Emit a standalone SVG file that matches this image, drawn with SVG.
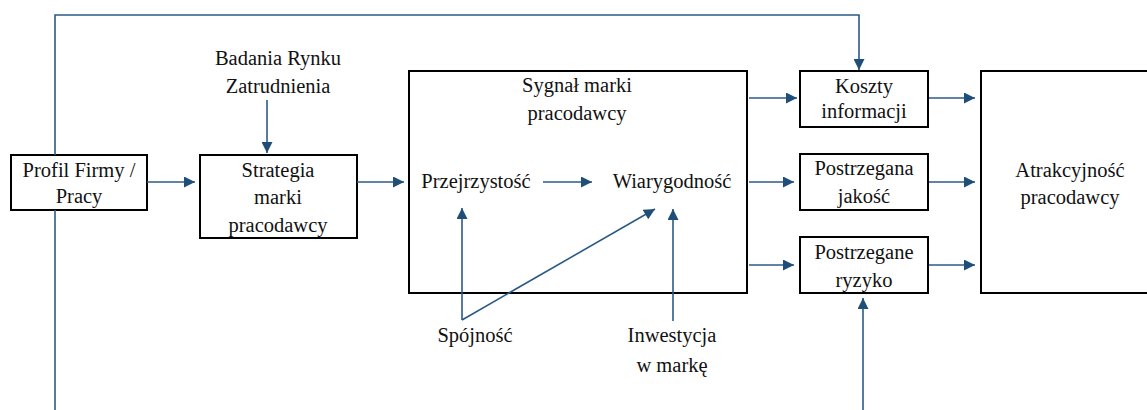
<svg xmlns="http://www.w3.org/2000/svg" width="1147" height="410" viewBox="0 0 1147 410">
<defs>
<marker id="arr" viewBox="0 0 10 10" refX="10" refY="5" markerWidth="12" markerHeight="11" markerUnits="userSpaceOnUse" orient="auto">
<path d="M0,0 L10,5 L0,10 z" fill="#1f4e79"/>
</marker>
<style>
.box{fill:none;stroke:#000;stroke-width:2}
.c{fill:none;stroke:#2b5a88;stroke-width:1.6}
.a{marker-end:url(#arr)}
</style>
</defs>
<rect width="1147" height="410" fill="#fff"/>
<g id="profil"><rect class="box" x="11" y="155" width="136" height="55"/><text font-family="'Liberation Serif', serif" font-size="20.5" fill="#111" text-anchor="middle" x="79" y="177">Profil Firmy /</text><text font-family="'Liberation Serif', serif" font-size="20.5" fill="#111" text-anchor="middle" x="79" y="203">Pracy</text></g>
<g id="badania"><text font-family="'Liberation Serif', serif" font-size="20.5" fill="#111" text-anchor="middle" x="278" y="65">Badania Rynku</text><text font-family="'Liberation Serif', serif" font-size="20.5" fill="#111" text-anchor="middle" x="278" y="93">Zatrudnienia</text></g>
<g id="strategia"><rect class="box" x="200" y="155" width="157" height="83"/><text font-family="'Liberation Serif', serif" font-size="20.5" fill="#111" text-anchor="middle" x="278" y="177">Strategia</text><text font-family="'Liberation Serif', serif" font-size="20.5" fill="#111" text-anchor="middle" x="278" y="204">marki</text><text font-family="'Liberation Serif', serif" font-size="20.5" fill="#111" text-anchor="middle" x="278" y="232">pracodawcy</text></g>
<g id="sygnal"><rect class="box" x="409" y="71" width="338" height="222"/><text font-family="'Liberation Serif', serif" font-size="20.5" fill="#111" text-anchor="middle" x="577" y="92">Sygnał marki</text><text font-family="'Liberation Serif', serif" font-size="20.5" fill="#111" text-anchor="middle" x="577" y="120">pracodawcy</text></g>
<g id="przejrzystosc"><text font-family="'Liberation Serif', serif" font-size="20.5" fill="#111" text-anchor="middle" x="476" y="188">Przejrzystość</text></g>
<g id="wiarygodnosc"><text font-family="'Liberation Serif', serif" font-size="20.5" fill="#111" text-anchor="middle" x="672" y="188">Wiarygodność</text></g>
<g id="spojnosc"><text font-family="'Liberation Serif', serif" font-size="20.5" fill="#111" text-anchor="middle" x="475" y="342">Spójność</text></g>
<g id="inwestycja"><text font-family="'Liberation Serif', serif" font-size="20.5" fill="#111" text-anchor="middle" x="672" y="342">Inwestycja</text><text font-family="'Liberation Serif', serif" font-size="20.5" fill="#111" text-anchor="middle" x="672" y="372">w markę</text></g>
<g id="koszty"><rect class="box" x="800" y="71" width="128" height="56"/><text font-family="'Liberation Serif', serif" font-size="20.5" fill="#111" text-anchor="middle" x="864" y="93">Koszty</text><text font-family="'Liberation Serif', serif" font-size="20.5" fill="#111" text-anchor="middle" x="864" y="118">informacji</text></g>
<g id="jakosc"><rect class="box" x="800" y="154" width="128" height="56"/><text font-family="'Liberation Serif', serif" font-size="20.5" fill="#111" text-anchor="middle" x="864" y="175">Postrzegana</text><text font-family="'Liberation Serif', serif" font-size="20.5" fill="#111" text-anchor="middle" x="864" y="203">jakość</text></g>
<g id="ryzyko"><rect class="box" x="800" y="237" width="128" height="56"/><text font-family="'Liberation Serif', serif" font-size="20.5" fill="#111" text-anchor="middle" x="864" y="259">Postrzegane</text><text font-family="'Liberation Serif', serif" font-size="20.5" fill="#111" text-anchor="middle" x="864" y="287">ryzyko</text></g>
<g id="atrakcyjnosc"><rect class="box" x="981" y="71" width="170" height="222"/><text font-family="'Liberation Serif', serif" font-size="20.5" fill="#111" text-anchor="middle" x="1070" y="177">Atrakcyjność</text><text font-family="'Liberation Serif', serif" font-size="20.5" fill="#111" text-anchor="middle" x="1070" y="204">pracodawcy</text></g>
<g id="connectors">
<polyline class="c a" points="55,155 55,15 859,15 859,70"/>
<line class="c" x1="55" y1="210" x2="55" y2="410"/>
<line class="c a" x1="147" y1="182" x2="195" y2="182"/>
<line class="c a" x1="267" y1="100" x2="267" y2="153"/>
<line class="c a" x1="357" y1="182" x2="404" y2="182"/>
<line class="c a" x1="543" y1="182" x2="592" y2="182"/>
<line class="c a" x1="462" y1="320" x2="462" y2="208"/>
<line class="c a" x1="462" y1="320" x2="655" y2="209"/>
<line class="c a" x1="673" y1="321" x2="673" y2="209"/>
<line class="c a" x1="749" y1="98" x2="797" y2="98"/>
<line class="c a" x1="749" y1="182" x2="794" y2="182"/>
<line class="c a" x1="749" y1="265" x2="794" y2="265"/>
<line class="c a" x1="929" y1="98" x2="975" y2="98"/>
<line class="c a" x1="929" y1="182" x2="975" y2="182"/>
<line class="c a" x1="929" y1="265" x2="975" y2="265"/>
<line class="c a" x1="863" y1="410" x2="863" y2="298"/>
</g>
</svg>
